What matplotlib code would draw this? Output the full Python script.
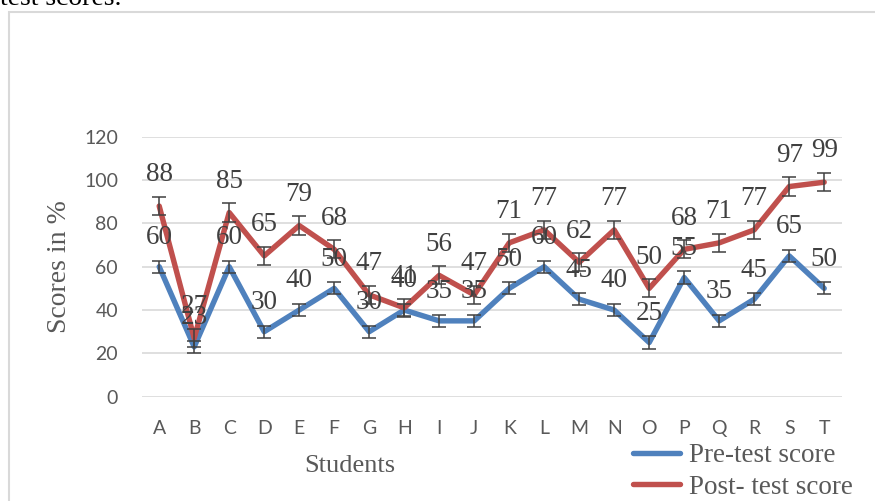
import matplotlib.pyplot as plt
from matplotlib.patches import Rectangle

# Data
students = list("ABCDEFGHIJKLMNOPQRST")
pre_test = [60, 23, 60, 30, 40, 50, 30, 40, 35, 35, 50, 60, 45, 40, 25, 55, 35, 45, 65, 50]
post_test = [88, 27, 85, 65, 79, 68, 47, 41, 56, 47, 71, 77, 62, 77, 50, 68, 71, 77, 97, 99]
pre_err = 2.8
post_err = 4.2

W, H = 875, 501
fig = plt.figure(figsize=(W / 100, H / 100), dpi=100)
ax = fig.add_axes([141.7 / W, 1 - 396.7 / H, 700 / W, 260 / H])

serif = 'Liberation Serif'
sans = 'Lato'
lab_col = '#404040'
tick_col = '#595959'

x = list(range(len(students)))
blue = '#4F81BD'
red = '#C0504D'

ax.plot(x, pre_test, color=blue, lw=3.9, solid_joinstyle='round', solid_capstyle='round',
        label='Pre-test score', zorder=3)
ax.plot(x, post_test, color=red, lw=3.9, solid_joinstyle='round', solid_capstyle='round',
        label='Post- test score', zorder=3)
ax.errorbar(x, pre_test, yerr=pre_err, fmt='none', ecolor=lab_col, elinewidth=1.1,
            capsize=5, capthick=1.1, zorder=4)
ax.errorbar(x, post_test, yerr=post_err, fmt='none', ecolor=lab_col, elinewidth=1.1,
            capsize=5, capthick=1.1, zorder=4)

for xi, v in zip(x, pre_test):
    ax.annotate(str(v), (xi, v), xytext=(0, 21), textcoords='offset points',
                ha='center', va='center', fontsize=19.5, family=serif, color=lab_col, zorder=5)
for xi, v in zip(x, post_test):
    ax.annotate(str(v), (xi, v), xytext=(0, 22.5), textcoords='offset points',
                ha='center', va='center', fontsize=19.5, family=serif, color=lab_col, zorder=5)

ax.set_xlim(-0.5, len(students) - 0.5)
ax.set_ylim(0, 120)
ax.set_yticks(range(0, 121, 20))
ax.set_xticks(x)
ax.set_xticklabels(students)
ax.grid(axis='y', color='#d9d9d9', lw=1.2)
ax.set_axisbelow(True)
for s in ax.spines.values():
    s.set_visible(False)
ax.tick_params(length=0, labelsize=14, labelcolor=tick_col, pad=17)
for t in ax.get_xticklabels() + ax.get_yticklabels():
    t.set_family(sans)

fig.text(60 / W, 1 - 267 / H, 'Scores in %', rotation=90, ha='center', va='center',
         fontsize=20, family=serif, color=tick_col)
fig.text(350 / W, 1 - 466 / H, 'Students', ha='center', va='center',
         fontsize=19, family=serif, color=tick_col)

leg = ax.legend(loc='upper left', bbox_to_anchor=(633 / W, 1 - 443 / H),
                bbox_transform=fig.transFigure, frameon=False, borderpad=0,
                borderaxespad=0, handlelength=1.75, handletextpad=0.3,
                labelspacing=0.25, prop={'family': serif, 'size': 19.5})
for t in leg.get_texts():
    t.set_color(tick_col)

# chart frame and cut-off caption above
fig.patches.append(Rectangle((8.5 / W, -0.1), 1.2, 1 - 12 / H + 0.1, transform=fig.transFigure,
                             fill=False, edgecolor='#d9d9d9', lw=1.5))
fig.text(0 / W, 1 - 5 / H, 'test scores.', ha='left', va='baseline',
         fontsize=20, family=serif, color='black')

fig.savefig('out.png', dpi=100)
